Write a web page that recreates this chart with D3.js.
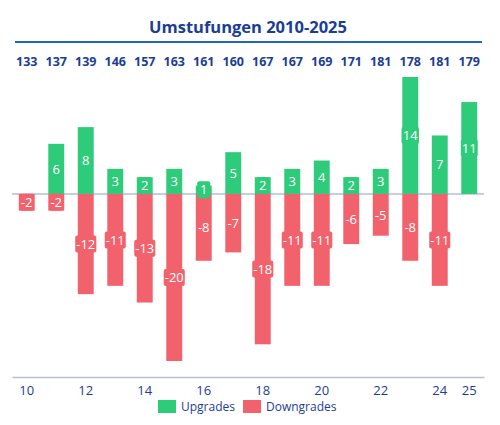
<!DOCTYPE html>
<html>
<head>
<meta charset="utf-8">
<script src="https://cdn.jsdelivr.net/npm/d3@7"></script>
<style>
  body { margin: 0; background: #fff; }
  svg { font-family: "Open Sans", sans-serif; }
</style>
</head>
<body>
<svg width="500" height="425"></svg>
<script>
// Umstufungen 2010-2025: upgrades / downgrades per year, total count on top

const years = [2010, 2011, 2012, 2013, 2014, 2015, 2016, 2017, 2018, 2019, 2020, 2021, 2022, 2023, 2024, 2025];
const totals = [133, 137, 139, 146, 157, 163, 161, 160, 167, 167, 169, 171, 181, 178, 181, 179];
const upgrades = [0, 6, 8, 3, 2, 3, 1, 5, 2, 3, 4, 2, 3, 14, 7, 11];
const downgrades = [-2, -2, -12, -11, -13, -20, -8, -7, -18, -11, -11, -6, -5, -8, -11, 0];
const tickYears = [2010, 2012, 2014, 2016, 2018, 2020, 2022, 2024, 2025];

const green = "#2ecc7a";
const red = "#f2626d";
const navy = "#1b3d96";

const svg = d3.select("svg");

const x = d3.scaleBand()
  .domain(years)
  .range([12, 484])
  .paddingInner(0.46)
  .paddingOuter(0.23);

const y = d3.scaleLinear()
  .domain([-20, 14])
  .range([361, 77]);

// title + rule
svg.append("text")
  .attr("x", 248)
  .attr("y", 33)
  .attr("text-anchor", "middle")
  .attr("font-size", 16.5)
  .attr("font-weight", "bold")
  .attr("fill", navy)
  .text("Umstufungen 2010-2025");

svg.append("line")
  .attr("x1", 15).attr("x2", 482)
  .attr("y1", 42).attr("y2", 42)
  .attr("stroke", "#1f66c1")
  .attr("stroke-width", 2);

// totals row
svg.selectAll(".total")
  .data(years)
  .enter()
  .append("text")
  .attr("class", "total")
  .attr("x", d => x(d) + x.bandwidth() / 2)
  .attr("y", 66)
  .attr("text-anchor", "middle")
  .attr("font-size", 12.5)
  .attr("font-weight", "bold")
  .attr("fill", navy)
  .text((d, i) => totals[i]);

// zero line
svg.append("line")
  .attr("x1", 12).attr("x2", 484)
  .attr("y1", y(0)).attr("y2", y(0))
  .attr("stroke", "#b3bfd0")
  .attr("stroke-width", 1.5);

const rows = years.map((yr, i) => ({ year: yr, up: upgrades[i], down: downgrades[i] }));

const bars = [];
rows.forEach(r => {
  if (r.up) bars.push({ year: r.year, v: r.up, color: green });
  if (r.down) bars.push({ year: r.year, v: r.down, color: red });
});

svg.selectAll(".bar")
  .data(bars)
  .enter()
  .append("rect")
  .attr("class", "bar")
  .attr("x", d => x(d.year))
  .attr("width", x.bandwidth())
  .attr("y", d => y(Math.max(0, d.v)))
  .attr("height", d => Math.abs(y(d.v) - y(0)))
  .attr("fill", d => d.color);

// value labels with a box in the bar colour
const label = svg.selectAll(".label")
  .data(bars)
  .enter()
  .append("g")
  .attr("class", "label")
  .attr("transform", d => "translate(" + (x(d.year) + x.bandwidth() / 2) + "," + (y(d.v / 2)) + ")");

label.append("text")
  .attr("text-anchor", "middle")
  .attr("dy", "0.36em")
  .attr("font-size", 13)
  .attr("fill", "#fff")
  .text(d => d.v);

label.each(function(d) {
  const g = d3.select(this);
  const bb = g.select("text").node().getBBox();
  const w = Math.max(bb.width + 2, 13);
  g.insert("rect", "text")
    .attr("x", -w / 2)
    .attr("y", -8.5)
    .attr("width", w)
    .attr("height", 17)
    .attr("rx", 2)
    .attr("fill", d.color);
});

// x axis
const axis = svg.append("g")
  .attr("transform", "translate(0,377)")
  .call(d3.axisBottom(x)
    .tickValues(tickYears)
    .tickSize(0)
    .tickPadding(9)
    .tickFormat(d => String(d).slice(2)));

axis.select(".domain")
  .attr("stroke", "#b3bfd0")
  .attr("stroke-width", 1.5);

axis.selectAll("text")
  .attr("font-family", "Open Sans, sans-serif")
  .attr("font-size", 13)
  .attr("fill", navy);

// legend
const legendItems = [
  { name: "Upgrades", color: green, x: 158 },
  { name: "Downgrades", color: red, x: 243 }
];

const legend = svg.selectAll(".legend")
  .data(legendItems)
  .enter()
  .append("g")
  .attr("class", "legend")
  .attr("transform", d => "translate(" + d.x + ",400)");

legend.append("rect")
  .attr("width", 18)
  .attr("height", 13)
  .attr("fill", d => d.color);

legend.append("text")
  .attr("x", 23)
  .attr("y", 11)
  .attr("font-size", 12)
  .attr("fill", navy)
  .text(d => d.name);
</script>
</body>
</html>
